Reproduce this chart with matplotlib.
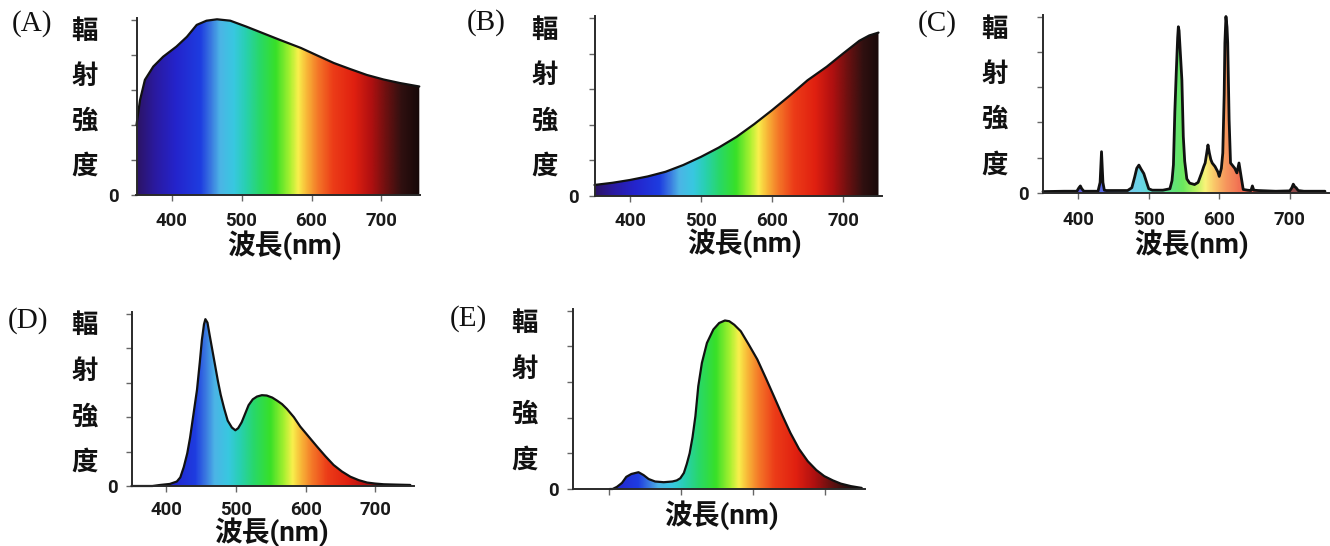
import numpy as np
import matplotlib
matplotlib.use('Agg')
import matplotlib.pyplot as plt
from matplotlib.colors import LinearSegmentedColormap
from matplotlib.patches import Polygon

# ---------------- data ----------------
A_wl = [350, 355, 362, 374, 388, 407, 422, 436, 450, 465, 484, 507, 531, 555, 585, 610, 632, 655, 679, 703, 726, 754]
A_val = [2.0, 2.71, 3.29, 3.67, 3.95, 4.24, 4.52, 4.86, 4.98, 5.02, 4.98, 4.81, 4.62, 4.43, 4.2, 3.97, 3.77, 3.6, 3.43, 3.3, 3.2, 3.1]

B_wl = [350, 375, 400, 425, 450, 475, 500, 525, 550, 575, 600, 625, 650, 677, 700, 723, 737, 750]
B_val = [0.31, 0.37, 0.45, 0.55, 0.68, 0.87, 1.1, 1.36, 1.66, 2.02, 2.41, 2.82, 3.25, 3.63, 4.0, 4.36, 4.51, 4.59]

C_wl = [350, 380, 398, 401, 403, 405, 408, 428, 431, 433, 435, 437, 440, 470, 476, 480, 483, 486, 489,
        493, 497, 500, 505, 520, 530, 533, 535, 537, 539, 541, 542, 543, 545, 547, 549, 551, 554, 558,
        565, 570, 575, 578, 580, 582, 584, 586, 588, 590, 594, 598, 600, 603, 605, 607, 608, 609.5,
        611, 612, 614, 616, 620, 622, 625, 628, 631, 634, 640, 645, 647, 649, 655, 680, 700, 703,
        705, 707, 709, 712, 720, 735, 750]
C_val = [0.04, 0.05, 0.05, 0.15, 0.2, 0.12, 0.05, 0.05, 0.3, 1.17, 0.3, 0.08, 0.07, 0.07, 0.15, 0.45, 0.7, 0.79, 0.68,
         0.55, 0.3, 0.12, 0.08, 0.08, 0.12, 0.35, 0.8, 2.3, 3.4, 4.4, 4.71, 4.6, 3.9, 3.2, 1.6, 0.9, 0.4, 0.28,
         0.24, 0.3, 0.57, 0.75, 0.85, 1.1, 1.36, 1.13, 0.95, 0.85, 0.75, 0.6, 0.47, 0.7, 1.13, 2.8, 4.25, 5.0,
         4.7, 4.25, 2.07, 0.85, 0.75, 0.7, 0.57, 0.85, 0.47, 0.1, 0.08, 0.07, 0.2, 0.08, 0.07, 0.05, 0.06, 0.15,
         0.25, 0.18, 0.15, 0.07, 0.05, 0.05, 0.05]

D_wl = [350, 380, 391, 405, 415, 420, 425, 430, 434, 439, 444, 448, 451, 454, 456, 459, 462, 466, 470, 474,
        478, 483, 488, 494, 499, 503, 508, 513, 518, 524, 530, 537, 544, 552, 559, 566, 573, 583, 592, 604,
        616, 628, 640, 652, 664, 676, 688, 700, 712, 730, 750]
D_val = [0.0, 0.0, 0.03, 0.06, 0.13, 0.25, 0.55, 0.95, 1.4, 2.1, 2.8, 3.6, 4.25, 4.7, 4.85, 4.75, 4.4, 3.95, 3.5, 3.05,
         2.65, 2.25, 1.9, 1.7, 1.62, 1.68, 1.85, 2.1, 2.35, 2.52, 2.6, 2.64, 2.63, 2.57, 2.48, 2.38, 2.24, 2.0, 1.73, 1.44,
         1.15, 0.87, 0.61, 0.42, 0.27, 0.17, 0.1, 0.07, 0.05, 0.04, 0.03]

E_wl = [401, 405, 411, 418, 424, 431, 441, 448, 455, 464, 476, 488, 494, 499, 504, 508, 512, 516, 520, 524,
        529, 536, 545, 553, 561, 567, 574, 583, 594, 606, 618, 629, 641, 652, 664, 676, 688, 699, 711, 722, 736, 751]
E_val = [0.0, 0.0, 0.06, 0.17, 0.34, 0.42, 0.47, 0.39, 0.28, 0.21, 0.19, 0.21, 0.24, 0.3, 0.45, 0.7, 1.0, 1.45, 2.04, 2.88,
         3.53, 4.09, 4.47, 4.65, 4.72, 4.7, 4.6, 4.42, 4.05, 3.63, 3.1, 2.6, 2.05, 1.57, 1.12, 0.78, 0.53, 0.36, 0.24, 0.15, 0.08, 0.03]

panel_labels = ['(A)', '(B)', '(C)', '(D)', '(E)']
ylabel_chars = ['輻', '射', '強', '度']
xlabel_text = '波長(nm)'
xtick_values = [400, 500, 600, 700]
xtick_labels = ['400', '500', '600', '700']
ytick_values = [0, 1, 2, 3, 4, 5]
ytick_labels = ['0', '', '', '', '', '']

# ---------------- style ----------------
W, H, DPI = 1330, 546, 100
XMIN, XMAX, YMAX = 350, 755, 5.05
SANS = ['Roboto', 'Noto Sans CJK TC', 'DejaVu Sans']
CJK = ['Noto Sans CJK TC', 'DejaVu Sans']

SPEC_STOPS = [(350, '#2c1466'), (375, '#2a1aa0'), (405, '#2424cc'), (440, '#1e3ce0'), (455, '#3a78e0'),
              (468, '#4cb4e6'), (488, '#38c8e0'), (505, '#28d0b0'), (525, '#28d868'), (548, '#38e028'),
              (568, '#a8f030'), (580, '#f8f04c'), (592, '#f8b838'), (608, '#f47828'), (630, '#ec3c18'),
              (660, '#e02010'), (685, '#b01010'), (705, '#701010'), (728, '#301010'), (755, '#140808')]
spec_cmap = LinearSegmentedColormap.from_list(
    'spec', [((w - XMIN) / (XMAX - XMIN), c) for w, c in SPEC_STOPS])
grad = spec_cmap(np.linspace(0, 1, 820))[None, :, :3]

fig = plt.figure(figsize=(W / DPI, H / DPI), dpi=DPI)
fig.patch.set_facecolor('white')


def ftext(px, py, s, **kw):
    fig.text(px / W, 1 - py / H, s, ha='center', va='center', **kw)


def panel(wl, val, left, zero, xs, ys, label, label_xy, ych_x, ych_ys, xl_xy,
          xpad, ypad, show_xlabels=True, lw=1.6, fill_alpha=1.0):
    ax = fig.add_axes([left / W, 1 - zero / H, (XMAX - XMIN) * xs / W, YMAX * ys / H])
    ax.set_facecolor('none')
    wl = np.asarray(wl, float)
    val = np.asarray(val, float)
    poly = Polygon(np.column_stack([np.r_[wl, wl[-1], wl[0]], np.r_[val, 0, 0]]),
                   closed=True, fc='none', ec='none', transform=ax.transData)
    ax.add_patch(poly)
    im = ax.imshow(grad, extent=[XMIN, XMAX, 0, YMAX], aspect='auto', origin='lower',
                   interpolation='bilinear', alpha=fill_alpha, zorder=1)
    im.set_clip_path(poly)
    ax.plot(wl, val, color='#111111', lw=lw, zorder=3, clip_on=False,
            solid_joinstyle='round', solid_capstyle='round')
    ax.set_xlim(XMIN, XMAX)
    ax.set_ylim(0, YMAX)
    for s in ['top', 'right']:
        ax.spines[s].set_visible(False)
    for s in ['left', 'bottom']:
        ax.spines[s].set_color('#2a2a2a')
        ax.spines[s].set_linewidth(1.4)
        ax.spines[s].set_zorder(4)
    ax.set_xticks(xtick_values)
    ax.set_xticklabels(xtick_labels if show_xlabels else ['' for _ in xtick_labels],
                       fontfamily=SANS, fontweight='bold', fontsize=13.4, color='#1a1a1a')
    ax.set_yticks(ytick_values)
    ax.set_yticklabels(ytick_labels, fontfamily=SANS, fontweight='bold', fontsize=13.4, color='#1a1a1a')
    ax.tick_params(axis='x', direction='out', length=4, width=1, color='#666666', pad=xpad)
    ax.tick_params(axis='y', direction='out', length=4, width=1, color='#666666', pad=ypad)

    ftext(label_xy[0], label_xy[1], label, family=['Liberation Serif', 'DejaVu Serif'], fontsize=21, color='#111111')
    for ch, cy in zip(ylabel_chars, ych_ys):
        ftext(ych_x, cy, ch, family=CJK, fontweight='bold', fontsize=19, color='#111111')
    ftext(xl_xy[0], xl_xy[1] + 2, xlabel_text, family=SANS, fontweight='bold', fontsize=20, color='#111111')
    return ax


panel(A_wl, A_val, 136.5, 195, 0.700, 35.0, panel_labels[0], (32, 24), 84.5, [31, 76, 121, 166], (285, 243),
      xpad=8.5, ypad=8.5)
panel(B_wl, B_val, 594.5, 196, 0.710, 35.6, panel_labels[1], (486, 23), 544.5, [30, 75, 121, 166], (745, 241),
      xpad=7.2, ypad=7)
panel(C_wl, C_val, 1043, 193, 0.705, 35.3, panel_labels[2], (937, 24), 994.5, [29, 74, 119, 165], (1192, 242),
      xpad=8.6, ypad=6, lw=2.0, fill_alpha=0.75)
panel(D_wl, D_val, 131.5, 486, 0.697, 34.4, panel_labels[3], (28, 321), 84.5, [325, 371, 417, 462], (272, 530),
      xpad=6.5, ypad=6)
panel(E_wl, E_val, 573, 489, 0.720, 35.7, panel_labels[4], (468, 319), 524.5, [323, 369, 414, 460], (722, 513),
      xpad=6.5, ypad=6, show_xlabels=False)

fig.savefig('out.png', dpi=DPI, facecolor='white')
